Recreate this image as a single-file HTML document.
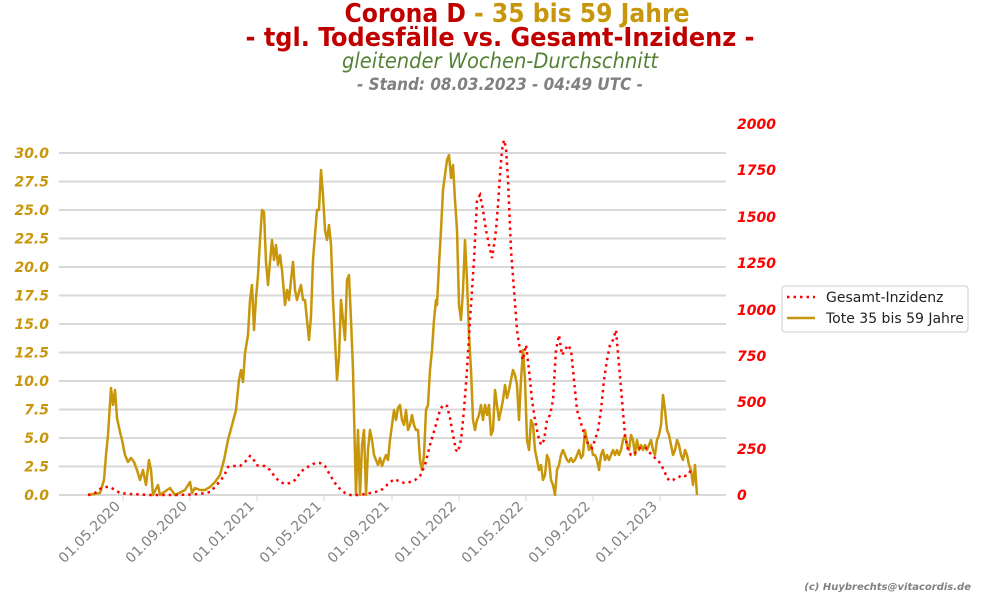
<!DOCTYPE html>
<html><head><meta charset="utf-8"><style>
body{margin:0;background:#fff;}
svg{display:block;font-family:"DejaVu Sans","Liberation Sans",sans-serif;}
</style></head><body>
<svg width="1000" height="600" viewBox="0 0 1000 600">
<text x="517" y="22" text-anchor="middle" font-size="26" font-weight="bold" font-family="DejaVu Sans Condensed, DejaVu Sans, sans-serif" textLength="345" lengthAdjust="spacingAndGlyphs"><tspan fill="#c00000">Corona D</tspan><tspan fill="#c8960a"> - 35 bis 59 Jahre</tspan></text>
<text x="500" y="46" text-anchor="middle" font-size="26" font-weight="bold" fill="#c00000" font-family="DejaVu Sans Condensed, DejaVu Sans, sans-serif" textLength="509" lengthAdjust="spacingAndGlyphs">- tgl. Todesfälle vs. Gesamt-Inzidenz  -</text>
<text x="500" y="68" text-anchor="middle" font-size="21" font-style="italic" fill="#548235" font-family="DejaVu Sans Condensed, DejaVu Sans, sans-serif" textLength="316" lengthAdjust="spacingAndGlyphs">gleitender Wochen-Durchschnitt</text>
<text x="500" y="90" text-anchor="middle" font-size="16.5" font-style="italic" font-weight="bold" fill="#808080" font-family="DejaVu Sans Condensed, DejaVu Sans, sans-serif" textLength="286" lengthAdjust="spacingAndGlyphs">- Stand: 08.03.2023 - 04:49 UTC -</text>
<g stroke="#d9d9d9" stroke-width="2">
<line x1="59" x2="726" y1="495" y2="495"/><line x1="59" x2="726" y1="466.5" y2="466.5"/><line x1="59" x2="726" y1="438" y2="438"/><line x1="59" x2="726" y1="409.5" y2="409.5"/><line x1="59" x2="726" y1="381" y2="381"/><line x1="59" x2="726" y1="352.5" y2="352.5"/><line x1="59" x2="726" y1="324" y2="324"/><line x1="59" x2="726" y1="295.5" y2="295.5"/><line x1="59" x2="726" y1="267" y2="267"/><line x1="59" x2="726" y1="238.5" y2="238.5"/><line x1="59" x2="726" y1="210" y2="210"/><line x1="59" x2="726" y1="181.5" y2="181.5"/><line x1="59" x2="726" y1="153" y2="153"/>
</g>
<g stroke="#d9d9d9" stroke-width="1">
<line x1="123" x2="123" y1="495" y2="501"/><line x1="190" x2="190" y1="495" y2="501"/><line x1="257" x2="257" y1="495" y2="501"/><line x1="324" x2="324" y1="495" y2="501"/><line x1="392" x2="392" y1="495" y2="501"/><line x1="459" x2="459" y1="495" y2="501"/><line x1="526" x2="526" y1="495" y2="501"/><line x1="593" x2="593" y1="495" y2="501"/><line x1="660" x2="660" y1="495" y2="501"/>
</g>
<g font-size="14" font-weight="bold" font-style="italic" fill="#c8960a" text-anchor="end">
<text x="49" y="500">0.0</text><text x="49" y="443">5.0</text><text x="49" y="471.5">2.5</text><text x="49" y="414.5">7.5</text><text x="49" y="386">10.0</text><text x="49" y="357.5">12.5</text><text x="49" y="329">15.0</text><text x="49" y="300.5">17.5</text><text x="49" y="272">20.0</text><text x="49" y="243.5">22.5</text><text x="49" y="215">25.0</text><text x="49" y="186.5">27.5</text><text x="49" y="158">30.0</text>
</g>
<g font-size="14" font-weight="bold" font-style="italic" fill="#ff0000">
<text x="737" y="500">0</text><text x="737" y="454">250</text><text x="737" y="407">500</text><text x="737" y="361">750</text><text x="737" y="315">1000</text><text x="737" y="268">1250</text><text x="737" y="222">1500</text><text x="737" y="175">1750</text><text x="737" y="129">2000</text>
</g>
<g font-size="14" fill="#808080" text-anchor="end">
<text transform="translate(121,507) rotate(-45)">01.05.2020</text>
<text transform="translate(188,507) rotate(-45)">01.09.2020</text>
<text transform="translate(255,507) rotate(-45)">01.01.2021</text>
<text transform="translate(322,507) rotate(-45)">01.05.2021</text>
<text transform="translate(390,507) rotate(-45)">01.09.2021</text>
<text transform="translate(457,507) rotate(-45)">01.01.2022</text>
<text transform="translate(524,507) rotate(-45)">01.05.2022</text>
<text transform="translate(591,507) rotate(-45)">01.09.2022</text>
<text transform="translate(658,507) rotate(-45)">01.01.2023</text>
</g>
<polyline fill="none" stroke="#c8960a" stroke-width="2.5" stroke-linejoin="round" points="88,495 100,493 104,480 106,455 108,435 111,388 113,405 115,390 117,418 120,432 122,440 125,455 128,462 131,458 134,462 137,470 140,480 143,470 146,485 149,460 151,470 153,495 158,485 160,495 170,488 175,495 185,490 190,482 192,493 195,488 200,490 205,490 210,487 215,482 220,475 224,460 228,440 232,425 236,410 239,380 241,370 243,382 245,353 248,335 250,300 252,285 254,330 256,298 258,275 260,240 262,210 264,212 266,262 268,285 270,262 272,240 274,260 276,245 278,265 280,255 282,270 285,305 287,290 289,300 291,280 293,262 295,290 297,300 299,292 301,285 303,300 305,300 307,320 309,340 311,316 313,260 315,235 317,210 319,210 321,170 323,195 325,230 327,240 329,225 331,245 333,300 335,340 337,380 339,357 341,300 343,320 345,340 347,280 349,275 351,320 353,370 355,455 356,495 358,430 360,495 362,445 364,430 366,495 368,450 370,430 372,440 374,455 376,460 378,465 380,458 382,466 384,460 386,455 388,460 390,440 392,425 394,410 396,420 398,408 400,405 402,420 404,425 406,410 408,430 410,425 412,415 414,425 416,430 418,430 420,460 422,470 424,455 426,410 428,405 430,370 432,350 434,320 436,300 437,305 439,265 441,230 443,190 445,175 447,160 449,155 451,178 453,165 455,200 457,230 459,305 461,320 463,290 465,240 467,280 469,335 471,370 473,420 475,430 477,420 479,415 481,405 483,420 485,405 487,415 489,405 491,435 493,430 495,390 497,405 499,420 501,410 503,400 505,385 507,398 509,390 511,380 513,370 515,375 517,385 519,420 521,380 523,350 525,380 527,440 529,450 531,420 533,425 535,450 537,460 539,470 541,465 543,480 545,475 547,455 549,460 551,480 553,485 555,495 557,470 559,465 561,455 563,450 565,455 567,460 569,462 571,458 573,462 575,460 577,455 579,450 581,458 583,455 585,430 587,440 589,450 591,445 593,455 595,455 597,460 599,470 601,455 603,450 605,460 607,455 609,460 611,455 613,450 615,455 617,450 619,455 621,450 623,440 625,435 627,445 629,450 631,435 633,440 635,455 637,440 639,450 641,445 643,450 645,445 647,450 649,445 651,440 653,450 655,455 657,440 659,435 661,425 663,395 665,410 667,430 669,435 671,445 673,455 675,450 677,440 679,445 681,455 683,460 685,450 687,455 689,465 691,470 693,485 695,465 697,495"/>
<polyline fill="none" stroke="#ff0000" stroke-width="2.5" stroke-dasharray="2.5,4" points="88,495 95,493 100,489 105,487 110,487 115,490 120,493 130,494 150,495 180,495 200,494 210,492 215,487 220,481 224,476 228,467 232,466 240,466 245,462 250,456 253,458 256,465 260,466 265,466 270,470 275,477 280,482 285,484 290,483 295,480 300,473 305,468 310,466 315,463 320,463 325,466 330,475 335,483 340,489 345,493 350,495 360,495 370,493 380,491 385,487 390,482 395,479 400,482 405,483 410,482 415,480 420,476 425,465 430,445 435,428 440,410 443,405 447,406 450,418 453,435 456,450 458,452 461,440 464,410 467,370 470,320 474,260 477,200 480,195 483,210 486,230 489,245 492,258 494,245 496,230 498,205 500,175 502,150 504,140 506,148 508,180 511,250 514,290 517,330 520,350 523,360 526,345 529,370 532,400 535,420 538,435 541,445 544,440 547,420 550,415 553,400 556,350 559,335 562,355 565,350 568,345 571,350 574,380 577,410 580,420 583,430 586,440 589,445 592,448 595,440 598,430 601,410 604,380 607,360 610,345 613,340 616,330 619,365 622,400 625,435 628,450 631,455 634,455 637,450 640,448 643,448 646,448 649,452 652,455 655,458 658,460 661,465 664,470 667,478 670,481 673,480 676,478 679,477 682,475 685,476 688,475 691,470 693,468"/>
<rect x="782" y="286" width="186" height="46" rx="3" fill="#fff" stroke="#ccc"/>
<line x1="787" x2="815" y1="297" y2="297" stroke="#ff0000" stroke-width="2.5" stroke-dasharray="2.5,4"/>
<line x1="787" x2="815" y1="318" y2="318" stroke="#c8960a" stroke-width="2.5"/>
<text x="826" y="302" font-size="14" fill="#222">Gesamt-Inzidenz</text>
<text x="826" y="323" font-size="14" fill="#222">Tote 35 bis 59 Jahre</text>
<text x="971" y="590" text-anchor="end" font-size="10" font-style="italic" font-weight="bold" fill="#808080">(c) Huybrechts@vitacordis.de</text>
</svg>
</body></html>
